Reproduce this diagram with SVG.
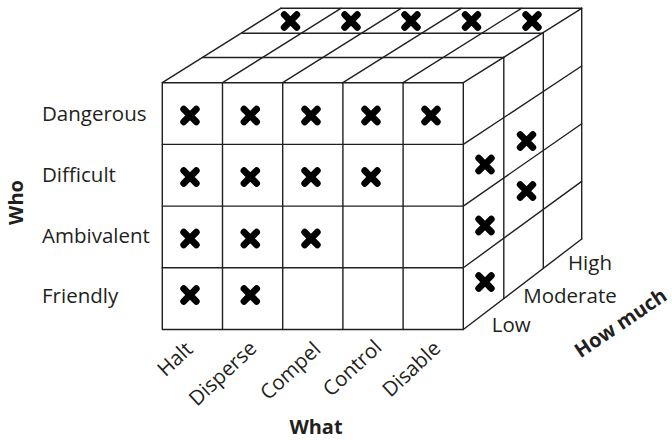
<svg xmlns="http://www.w3.org/2000/svg" xmlns:xlink="http://www.w3.org/1999/xlink" width="672" height="440" viewBox="0 0 672 440">
  <style>
    .grid { fill: none; stroke: #231f20; stroke-width: 1.4; stroke-linecap: round; stroke-linejoin: round; }
    .lbl { font-family: "Open Sans", "Noto Sans", "DejaVu Sans", sans-serif; font-size: 20.5px; fill: #231f20; }
    .axis { font-family: "Open Sans", "Noto Sans", "DejaVu Sans", sans-serif; font-size: 20px; font-weight: bold; fill: #231f20; }
  </style>
  <defs>
    <!-- heavy cross mark -->
    <path id="xm" d="M-6.3,-6.3 L6.3,6.3 M6.3,-6.3 L-6.3,6.3" fill="none" stroke="#000" stroke-width="6.8" stroke-linecap="round"/>
  </defs>

  <rect width="672" height="440" fill="#fff"/>

  <!-- cube: front face -->
  <g id="front-face" class="grid">
    <rect x="162.3" y="82.7" width="301" height="246.8"/>
    <path d="M222.5,82.7V329.5 M282.7,82.7V329.5 M342.9,82.7V329.5 M403.1,82.7V329.5"/>
    <path d="M162.3,144.4H463.3 M162.3,206.1H463.3 M162.3,267.8H463.3"/>
  </g>

  <!-- cube: top face -->
  <g id="top-face" class="grid">
    <path d="M202.8,57.5H503.8 M242.3,33.2H543.3 M280.7,8.3H581.7"/>
    <path d="M162.3,82.7L280.7,8.3 M222.5,82.7L340.9,8.3 M282.7,82.7L401.1,8.3 M342.9,82.7L461.3,8.3 M403.1,82.7L521.5,8.3 M463.3,82.7L581.7,8.3"/>
  </g>

  <!-- cube: right face -->
  <g id="right-face" class="grid">
    <path d="M503.8,57.3V298.5 M543.3,33.2V268.4 M581.7,8.3V239"/>
    <path d="M463.3,144.4L581.7,66 M463.3,206.1L581.7,123.7 M463.3,267.8L581.7,181.4 M463.3,329.5L581.7,239"/>
  </g>

  <!-- marks -->
  <g id="marks">
    <use xlink:href="#xm" x="190" y="115.5"/>
    <use xlink:href="#xm" x="250.3" y="115.5"/>
    <use xlink:href="#xm" x="311" y="115.5"/>
    <use xlink:href="#xm" x="371" y="115.5"/>
    <use xlink:href="#xm" x="431" y="115.5"/>
    <use xlink:href="#xm" x="190" y="177"/>
    <use xlink:href="#xm" x="250.3" y="177"/>
    <use xlink:href="#xm" x="311" y="177"/>
    <use xlink:href="#xm" x="371" y="177"/>
    <use xlink:href="#xm" x="190" y="238.5"/>
    <use xlink:href="#xm" x="250.3" y="238.5"/>
    <use xlink:href="#xm" x="311" y="238.5"/>
    <use xlink:href="#xm" x="190" y="295"/>
    <use xlink:href="#xm" x="250.3" y="295"/>
    <use xlink:href="#xm" x="290.5" y="21"/>
    <use xlink:href="#xm" x="351" y="21"/>
    <use xlink:href="#xm" x="411" y="21"/>
    <use xlink:href="#xm" x="471.5" y="21"/>
    <use xlink:href="#xm" x="532" y="21"/>
    <use xlink:href="#xm" x="485" y="164.5"/>
    <use xlink:href="#xm" x="485" y="225.5"/>
    <use xlink:href="#xm" x="485" y="282"/>
    <use xlink:href="#xm" x="526.5" y="141"/>
    <use xlink:href="#xm" x="526.5" y="191"/>
  </g>

  <!-- row labels -->
  <g id="who-labels">
    <text class="lbl" x="42" y="120.5">Dangerous</text>
    <text class="lbl" x="42" y="181.5">Difficult</text>
    <text class="lbl" x="42" y="243">Ambivalent</text>
    <text class="lbl" x="42" y="303">Friendly</text>
  </g>

  <!-- column labels -->
  <g id="what-labels" text-anchor="end">
    <text class="lbl" transform="translate(194,351) rotate(-43)">Halt</text>
    <text class="lbl" transform="translate(258,350) rotate(-43)">Disperse</text>
    <text class="lbl" transform="translate(322,351) rotate(-43)">Compel</text>
    <text class="lbl" transform="translate(383,349) rotate(-43)">Control</text>
    <text class="lbl" transform="translate(442,350) rotate(-43)">Disable</text>
  </g>

  <!-- depth labels -->
  <g id="how-much-labels">
    <text class="lbl" x="568" y="270">High</text>
    <text class="lbl" x="523.3" y="303.3">Moderate</text>
    <text class="lbl" x="491.7" y="331.7">Low</text>
  </g>

  <!-- axis titles -->
  <g id="axis-titles">
    <text class="axis" text-anchor="middle" transform="translate(23,202.5) rotate(-90)">Who</text>
    <text class="axis" text-anchor="middle" x="316" y="434">What</text>
    <text class="axis" text-anchor="end" font-size="21" transform="translate(668.5,299) rotate(-34)">How much</text>
  </g>
</svg>
